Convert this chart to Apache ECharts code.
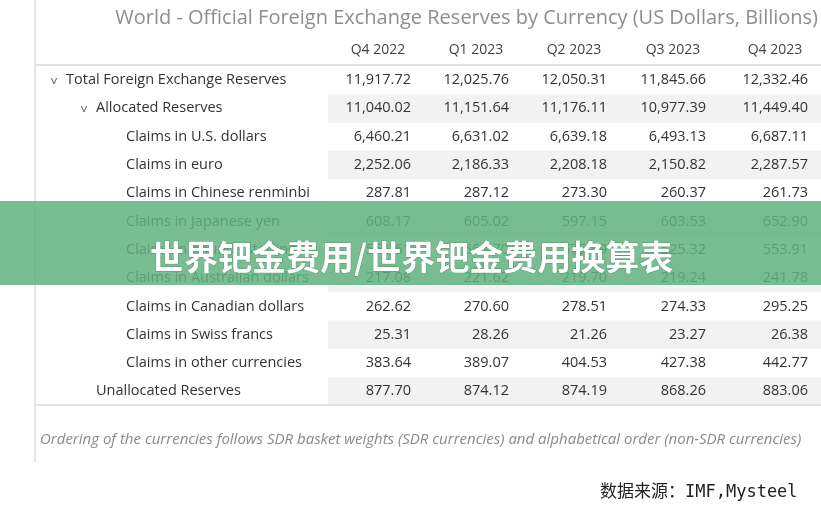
<!DOCTYPE html>
<html>
<head>
<meta charset="utf-8">
<script src="https://cdn.jsdelivr.net/npm/echarts@6/dist/echarts.min.js"></script>
<style>html,body{margin:0;background:#fff}#main{width:821px;height:511px}</style>
</head>
<body>
<div id="main"></div>
<script>
var quarters = ['Q4 2022', 'Q1 2023', 'Q2 2023', 'Q3 2023', 'Q4 2023'];
var rowLabels = ['Total Foreign Exchange Reserves', 'Allocated Reserves', 'Claims in U.S. dollars', 'Claims in euro',
  'Claims in Chinese renminbi', 'Claims in Japanese yen', 'Claims in pounds sterling', 'Claims in Australian dollars',
  'Claims in Canadian dollars', 'Claims in Swiss francs', 'Claims in other currencies', 'Unallocated Reserves'];
var rowLevel = [0, 1, 2, 2, 2, 2, 2, 2, 2, 2, 2, 1];
var values = [
  ['11,917.72', '12,025.76', '12,050.31', '11,845.66', '12,332.46'],
  ['11,040.02', '11,151.64', '11,176.11', '10,977.39', '11,449.40'],
  ['6,460.21', '6,631.02', '6,639.18', '6,493.13', '6,687.11'],
  ['2,252.06', '2,186.33', '2,208.18', '2,150.82', '2,287.57'],
  ['287.81', '287.12', '273.30', '260.37', '261.73'],
  ['608.17', '605.02', '597.15', '603.53', '652.90'],
  ['551.61', '563.70', '575.39', '525.32', '553.91'],
  ['217.08', '221.62', '219.70', '219.24', '241.78'],
  ['262.62', '270.60', '278.51', '274.33', '295.25'],
  ['25.31', '28.26', '21.26', '23.27', '26.38'],
  ['383.64', '389.07', '404.53', '427.38', '442.77'],
  ['877.70', '874.12', '874.19', '868.26', '883.06']
];

var font = '"Liberation Sans Narrow", "Open Sans", sans-serif';
var colRight = [411, 509, 607, 706, 808];
var rowY0 = 80, rowH = 28.3;
var g = [];
g.push({type: 'line', shape: {x1: 35, y1: 0, x2: 35, y2: 462}, style: {stroke: '#e6e6e6', lineWidth: 2}});
g.push({type: 'text', style: {text: 'World - Official Foreign Exchange Reserves by Currency (US Dollars, Billions)', x: 818, y: 18,
  align: 'right', verticalAlign: 'middle', fill: '#8e8e8e', font: '20px ' + font}});
quarters.forEach(function (q, i) {
  g.push({type: 'text', style: {text: q, x: colRight[i] - 33, y: 50, align: 'center', verticalAlign: 'middle', fill: '#444', font: '14px ' + font}});
});
g.push({type: 'line', shape: {x1: 36, y1: 65, x2: 821, y2: 65}, style: {stroke: '#e2e2e2', lineWidth: 2}});
rowLabels.forEach(function (lab, r) {
  var y = rowY0 + r * rowH;
  if (r % 2 === 1) g.push({type: 'rect', shape: {x: 328, y: y - rowH / 2, width: 493, height: rowH}, style: {fill: '#f2f2f2'}});
  var x = 66 + rowLevel[r] * 30;
  if (r < 2) g.push({type: 'text', style: {text: '\u02c5', x: x - 12, y: y + 2, align: 'center', verticalAlign: 'middle', fill: '#666', font: '13px ' + font}});
  g.push({type: 'text', style: {text: lab, x: x, y: y, verticalAlign: 'middle', fill: '#333', font: '14.5px ' + font}});
  values[r].forEach(function (v, c) {
    g.push({type: 'text', style: {text: v, x: colRight[c], y: y, align: 'right', verticalAlign: 'middle', fill: '#333', font: '14.5px ' + font}});
  });
});
g.push({type: 'line', shape: {x1: 36, y1: 405, x2: 821, y2: 405}, style: {stroke: '#e2e2e2', lineWidth: 2}});
g.push({type: 'text', style: {text: 'Ordering of the currencies follows SDR basket weights (SDR currencies) and alphabetical order (non-SDR currencies)',
  x: 40, y: 440, verticalAlign: 'middle', fill: '#8a8a8a', font: 'italic 15px ' + font}});
g.push({type: 'text', style: {text: '数据来源：IMF,Mysteel', x: 600, y: 493, verticalAlign: 'middle', fill: '#222', font: '17px "DejaVu Sans Mono", "Noto Sans CJK SC", monospace'}});
g.push({type: 'rect', shape: {x: 0, y: 201, width: 821, height: 84}, style: {fill: 'rgba(98,178,128,0.85)'}});
g.push({type: 'text', style: {text: '世界钯金费用/世界钯金费用换算表', x: 150, y: 257, verticalAlign: 'middle', fill: '#fff',
  font: 'bold 34px "Noto Sans CJK SC", sans-serif', stroke: 'rgba(60,120,80,0.5)', lineWidth: 1}});

var chart = echarts.init(document.getElementById('main'));
chart.setOption({animation: false, graphic: {elements: g}});
</script>
</body>
</html>
